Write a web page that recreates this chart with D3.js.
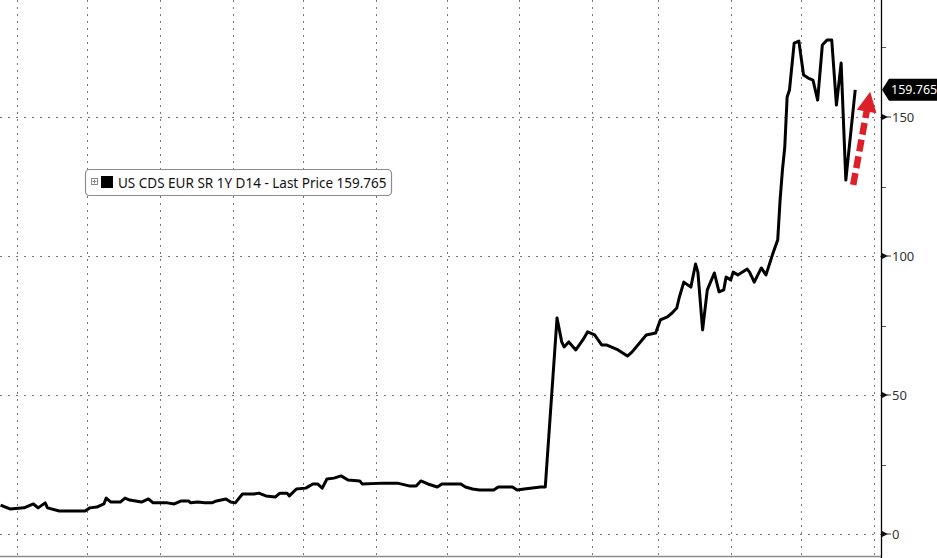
<!DOCTYPE html>
<html>
<head>
<meta charset="utf-8">
<script src="https://cdn.jsdelivr.net/npm/d3@7"></script>
<style>
  html, body { margin: 0; padding: 0; background: #fff; }
  svg { display: block; }
</style>
</head>
<body>
<svg id="chart" width="937" height="558"></svg>
<script>
// ---- data ----
const dates = [
  "2022-05-25","2022-05-29","2022-06-04","2022-06-08","2022-06-10","2022-06-13","2022-06-14","2022-06-19",
  "2022-06-30","2022-07-02","2022-07-05","2022-07-08","2022-07-09","2022-07-11","2022-07-15","2022-07-17",
  "2022-07-19","2022-07-24","2022-07-27","2022-07-29","2022-08-04","2022-08-07","2022-08-10","2022-08-13",
  "2022-08-14","2022-08-17","2022-08-20","2022-08-23","2022-08-25","2022-08-29","2022-08-31","2022-09-02",
  "2022-09-05","2022-09-10","2022-09-12","2022-09-15","2022-09-19","2022-09-21","2022-09-24","2022-09-25",
  "2022-09-28","2022-10-02","2022-10-05","2022-10-07","2022-10-09","2022-10-11","2022-10-14","2022-10-17",
  "2022-10-20","2022-10-25","2022-10-26","2022-11-04","2022-11-10","2022-11-15","2022-11-18","2022-11-20",
  "2022-11-23","2022-11-27","2022-11-29","2022-12-07","2022-12-09","2022-12-12","2022-12-15","2022-12-21",
  "2022-12-23","2022-12-29","2022-12-31","2023-01-03","2023-01-10","2023-01-12","2023-01-17","2023-01-19",
  "2023-01-20","2023-01-22","2023-01-25","2023-01-28","2023-01-30","2023-02-02","2023-02-05","2023-02-07",
  "2023-02-12","2023-02-16","2023-02-18","2023-02-24","2023-02-28","2023-03-02","2023-03-05","2023-03-07",
  "2023-03-09","2023-03-10","2023-03-12","2023-03-15","2023-03-17","2023-03-18","2023-03-20","2023-03-22",
  "2023-03-25","2023-03-27","2023-03-29","2023-03-30","2023-04-01","2023-04-02","2023-04-04","2023-04-08",
  "2023-04-09","2023-04-11","2023-04-14","2023-04-16","2023-04-19","2023-04-21","2023-04-22","2023-04-23",
  "2023-04-24","2023-04-25","2023-04-26","2023-04-28","2023-04-30","2023-05-02","2023-05-04","2023-05-06",
  "2023-05-08","2023-05-10","2023-05-12","2023-05-14","2023-05-16","2023-05-18","2023-05-20","2023-05-24"
];
const values = [
  10.4, 9.0, 9.4, 10.8, 9.4, 11.2, 9.4, 8.3,
  8.3, 9.4, 9.7, 10.8, 12.9, 11.5, 11.5, 12.9,
  12.2, 11.5, 12.6, 11.2, 11.2, 10.8, 11.9, 11.9,
  11.2, 11.5, 11.2, 11.2, 11.9, 12.6, 11.5, 11.2,
  14.4, 14.4, 14.7, 13.7, 13.3, 14.7, 14.7, 13.7,
  16.2, 16.5, 18.0, 18.0, 16.5, 19.8, 20.1, 20.9,
  19.4, 19.1, 18.0, 18.3, 18.3, 17.3, 17.3, 19.1,
  18.0, 16.9, 18.0, 18.0, 16.9, 16.2, 15.8, 15.8,
  16.9, 16.9, 15.8, 16.2, 16.9, 16.9, 77.7, 69.1,
  67.3, 69.1, 66.2, 69.8, 72.7, 71.6, 68.0, 68.0,
  66.2, 64.0, 65.5, 71.6, 72.3, 77.0, 78.1, 79.5,
  81.3, 84.9, 90.6, 88.8, 97.1, 94.2, 73.4, 87.8,
  93.9, 87.1, 87.8, 92.4, 91.4, 94.2, 93.2, 95.3,
  94.2, 90.6, 95.7, 93.2, 101.1, 105.8, 120.1, 130.9,
  139.2, 157.2, 159.7, 176.6, 177.3, 165.1, 164.0, 163.3,
  156.1, 175.9, 177.7, 177.7, 154.3, 169.4, 127.3, 159.765
];
const yTicks = [0, 50, 100, 150];
const yMinorTicks = [25, 75, 125, 175];
const lastPriceLabel = "159.765";
const legendLabel = "US CDS EUR SR 1Y D14 - Last Price 159.765";

// ---- layout ----
const W = 937, H = 558;
const axisX = 881, bottomY = 556;
const parse = d3.utcParse("%Y-%m-%d");
const data = dates.map((d, i) => ({ date: parse(d), value: values[i] }));

const x = d3.scaleUtc()
  .domain([parse("2022-06-01"), parse("2023-06-01")])
  .range([17, 874]);
const y = d3.scaleLinear().domain([0, 150]).range([534, 117]);

const svg = d3.select("#chart");
svg.append("rect").attr("width", W).attr("height", H).attr("fill", "#fff");

// vertical month gridlines
const months = d3.utcMonth.range(x.invert(0), x.invert(axisX));
svg.append("g").selectAll("line").data(months).join("line")
  .attr("x1", d => Math.round(x(d)) + 0.5).attr("x2", d => Math.round(x(d)) + 0.5)
  .attr("y1", 0).attr("y2", bottomY)
  .attr("stroke", "#777").attr("stroke-width", 1)
  .attr("stroke-dasharray", "2,5");

// horizontal gridlines
svg.append("g").selectAll("line").data(yTicks).join("line")
  .attr("x1", 0).attr("x2", axisX)
  .attr("y1", d => Math.round(y(d)) + 0.5).attr("y2", d => Math.round(y(d)) + 0.5)
  .attr("stroke", "#777").attr("stroke-width", 1)
  .attr("stroke-dasharray", "2,6");

// bottom border
svg.append("line").attr("x1", 0).attr("x2", axisX)
  .attr("y1", bottomY + 0.5).attr("y2", bottomY + 0.5)
  .attr("stroke", "#8a8a8a").attr("stroke-width", 1.5);

// right axis
svg.append("line").attr("x1", axisX + 0.5).attr("x2", axisX + 0.5)
  .attr("y1", 0).attr("y2", H).attr("stroke", "#000").attr("stroke-width", 1.3);

const axisG = svg.append("g");
axisG.selectAll("path.tk").data(yTicks).join("path").attr("class", "tk")
  .attr("d", d => {
    const yy = y(d);
    return `M${axisX + 1},${yy - 3}L${axisX + 7},${yy}L${axisX + 1},${yy + 3}Z`;
  })
  .attr("fill", "#111");
axisG.selectAll("line.tl").data(yTicks).join("line").attr("class", "tl")
  .attr("x1", axisX + 6).attr("x2", axisX + 10)
  .attr("y1", d => y(d)).attr("y2", d => y(d))
  .attr("stroke", "#333").attr("stroke-width", 1);
axisG.selectAll("line.mn").data(yMinorTicks).join("line").attr("class", "mn")
  .attr("x1", axisX + 1).attr("x2", axisX + 5)
  .attr("y1", d => Math.round(y(d)) + 0.5).attr("y2", d => Math.round(y(d)) + 0.5)
  .attr("stroke", "#555").attr("stroke-width", 1);
axisG.selectAll("text").data(yTicks).join("text")
  .attr("x", axisX + 11).attr("y", d => y(d))
  .attr("dy", "0.36em")
  .attr("font-family", "'Noto Sans', 'Open Sans', sans-serif")
  .attr("font-size", 13).attr("fill", "#333")
  .text(d => d);

// the series line
const line = d3.line().x(d => x(d.date)).y(d => y(d.value));
svg.append("path").datum(data)
  .attr("d", line)
  .attr("fill", "none").attr("stroke", "#000")
  .attr("stroke-width", 3).attr("stroke-linejoin", "round");

// red dashed arrow
const last = data[data.length - 1];
const ax0 = x(last.date) - 2, ay0 = y(last.value) + 95;
const ax1 = x(last.date) + 15, ay1 = y(last.value) + 2;
const ang = Math.atan2(ay1 - ay0, ax1 - ax0);
const headLen = 20, headW = 10;
const bx = ax1 - headLen * Math.cos(ang), by = ay1 - headLen * Math.sin(ang);
svg.append("line")
  .attr("x1", ax0).attr("y1", ay0).attr("x2", bx + 2 * Math.cos(ang)).attr("y2", by + 2 * Math.sin(ang))
  .attr("stroke", "#dd1f2a").attr("stroke-width", 6.5)
  .attr("stroke-dasharray", "12,5");
svg.append("path")
  .attr("d", `M${ax1},${ay1}L${bx + headW * Math.sin(ang)},${by - headW * Math.cos(ang)}L${bx - headW * Math.sin(ang)},${by + headW * Math.cos(ang)}Z`)
  .attr("fill", "#dd1f2a");

// last price label
const ly = y(last.value);
svg.append("path")
  .attr("d", `M${axisX + 1},${ly}L${axisX + 8},${ly - 11}L${W},${ly - 11}L${W},${ly + 11}L${axisX + 8},${ly + 11}Z`)
  .attr("fill", "#000");
svg.append("text")
  .attr("x", axisX + 10).attr("y", ly).attr("dy", "0.36em")
  .attr("font-family", "'Noto Sans', 'Open Sans', sans-serif")
  .attr("font-size", 12.5).attr("fill", "#fff")
  .text(lastPriceLabel);

// legend
const lg = svg.append("g");
lg.append("rect").attr("x", 85.5).attr("y", 169.5).attr("width", 306).attr("height", 26)
  .attr("rx", 4).attr("fill", "#fff").attr("stroke", "#8c8c8c").attr("stroke-width", 1.2);
lg.append("rect").attr("x", 91.5).attr("y", 178.5).attr("width", 6).attr("height", 6)
  .attr("fill", "none").attr("stroke", "#888").attr("stroke-width", 1);
lg.append("path").attr("d", "M92.5,181.5h4M94.5,179.5v4").attr("stroke", "#888").attr("stroke-width", 1);
lg.append("rect").attr("x", 101).attr("y", 176).attr("width", 12).attr("height", 12).attr("fill", "#000");
lg.append("text").attr("x", 118).attr("y", 188)
  .attr("font-family", "'Noto Sans', 'Open Sans', sans-serif")
  .attr("font-size", 13.5).attr("fill", "#111")
  .text(legendLabel);
</script>
</body>
</html>
